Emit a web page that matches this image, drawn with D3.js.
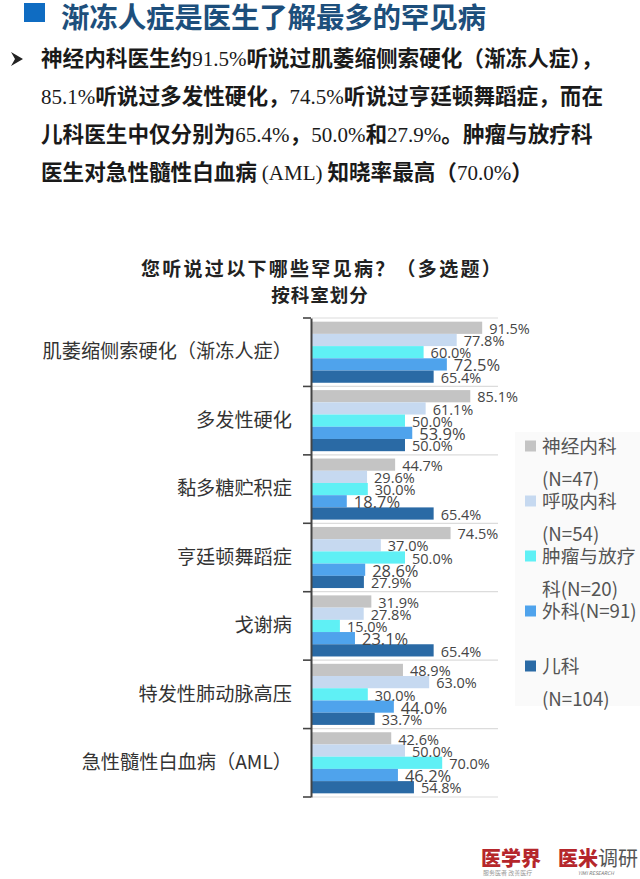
<!DOCTYPE html>
<html>
<head>
<meta charset="utf-8">
<script src="https://cdn.jsdelivr.net/npm/d3@7"></script>
<style>
html, body { margin: 0; padding: 0; background: #fff; }
svg { display: block; font-family: "Noto Sans CJK SC", sans-serif; }
</style>
</head>
<body>
<svg id="chart" width="640" height="879"></svg>
<script>
/* chart values */
var categories = ['肌萎缩侧索硬化（渐冻人症）', '多发性硬化', '黏多糖贮积症', '亨廷顿舞蹈症', '戈谢病', '特发性肺动脉高压', '急性髓性白血病（AML）'];
var seriesNames = ['神经内科', '呼吸内科', '肿瘤与放疗科', '外科', '儿科'];
var neurology = [91.5, 85.1, 44.7, 74.5, 31.9, 48.9, 42.6];
var respiratory = [77.8, 61.1, 29.6, 37.0, 27.8, 63.0, 50.0];
var oncology = [60.0, 50.0, 30.0, 50.0, 15.0, 30.0, 70.0];
var surgery = [72.5, 53.9, 18.7, 28.6, 23.1, 44.0, 46.2];
var pediatrics = [65.4, 50.0, 65.4, 27.9, 65.4, 33.7, 54.8];
var legendLines = [['神经内科', '(N=47)'], ['呼吸内科', '(N=54)'], ['肿瘤与放疗', '科(N=20)'], ['外科(N=91)', ''], ['儿科', '(N=104)']];
var headline = '渐冻人症是医生了解最多的罕见病';
var bodyLines = [
	'神经内科医生约91.5%听说过肌萎缩侧索硬化（渐冻人症），',
	'85.1%听说过多发性硬化，74.5%听说过亨廷顿舞蹈症，而在',
	'儿科医生中仅分别为65.4%，50.0%和27.9%。肿瘤与放疗科',
	'医生对急性髓性白血病 (AML) 知晓率最高（70.0%）'
];
var chartTitle = ['您听说过以下哪些罕见病？（多选题）', '按科室划分'];

var allSeries = [neurology, respiratory, oncology, surgery, pediatrics];
var colors = ['#c4c4c4', '#c6d9f0', '#5ff0f5', '#4fa3ec', '#2a6aa5'];
var labelSizes = [14.5, 14.5, 14.5, 16.5, 14.5];

var svg = d3.select('#chart');

/* header */
svg.append('rect').attr('x', 24).attr('y', 3).attr('width', 21).attr('height', 19).attr('fill', '#0f6cc2');
svg.append('text').attr('x', 61).attr('y', 28)
	.attr('font-size', 28.5).attr('font-weight', 700).attr('fill', '#1d4f7c')
	.attr('textLength', 425).text(headline);

svg.append('path').attr('d', 'M11,52 L23,59 L11,66 L15,59 Z').attr('fill', '#222');

var bodyY = d3.scaleLinear().domain([0, 3]).range([66, 180]);
bodyLines.forEach(function(line, i) {
	var t = svg.append('text').attr('x', 41).attr('y', bodyY(i)).attr('fill', '#1a1a1a');
	line.split(/([0-9.%]+|\(AML\))/).forEach(function(part) {
		if (part === '') return;
		var isLatin = /^[0-9.%(]/.test(part);
		t.append('tspan').text(part)
			.attr('font-family', isLatin ? '"Liberation Serif"' : '"Noto Sans CJK SC"')
			.attr('font-weight', isLatin ? 400 : 700)
			.attr('font-size', isLatin ? 21 : 21.6);
	});
});

chartTitle.forEach(function(line, i) {
	svg.append('text').attr('x', i == 0 ? 322 : 320).attr('y', 276 + i * 26)
		.attr('text-anchor', 'middle').attr('font-size', i == 0 ? 19 : 18.5).attr('font-weight', 700)
		.attr('letter-spacing', i == 0 ? 2.3 : 1).attr('fill', '#222').text(line);
});

/* scales */
var y0 = d3.scaleBand().domain(categories).range([318, 797]);
var y1 = d3.scaleBand().domain(d3.range(seriesNames.length)).range([0, y0.bandwidth()]).paddingOuter(0.3);
var x = d3.scaleLinear().domain([0, 100]).range([312, 498]);

/* separators and outer ticks sit on the band edges */
var edges = categories.map(function(c) { return y0(c); }).concat(y0.range()[1]);
svg.selectAll('.sep').data(edges).enter().append('line')
	.attr('x1', x(0)).attr('x2', x(100)).attr('y1', function(d) { return d; }).attr('y2', function(d) { return d; })
	.attr('stroke', '#dcdcdc').attr('stroke-width', 1.2);

/* bars */
var groups = svg.selectAll('.cat').data(categories).enter().append('g')
	.attr('transform', function(c) { return 'translate(0,' + y0(c) + ')'; });
groups.each(function(c, ci) {
	var g = d3.select(this);
	var rows = allSeries.map(function(values, si) { return { si: si, v: values[ci] }; });
	g.selectAll('rect').data(rows).enter().append('rect')
		.attr('x', x(0)).attr('y', function(d) { return y1(d.si); })
		.attr('width', function(d) { return x(d.v) - x(0); })
		.attr('height', y1.bandwidth())
		.attr('fill', function(d) { return colors[d.si]; });
});
/* labels after all bars, they overlap the next row in the reference */
groups.each(function(c, ci) {
	var g = d3.select(this);
	var rows = allSeries.map(function(values, si) { return { si: si, v: values[ci] }; });
	g.selectAll('text.val').data(rows).enter().append('text').attr('class', 'val')
		.attr('x', function(d) { return x(d.v) + 7; })
		.attr('y', function(d) { return y1(d.si) + y1.bandwidth() / 2 + 1; })
		.attr('dy', '0.36em')
		.attr('font-family', '"Open Sans", sans-serif')
		.attr('font-size', function(d) { return labelSizes[d.si]; })
		.attr('fill', '#454545')
		.text(function(d) { return d.v.toFixed(1) + '%'; });
});

/* axis */
var axis = svg.append('g').attr('transform', 'translate(311,0)')
	.call(d3.axisLeft(y0).tickSize(0).tickPadding(19));
axis.select('.domain').attr('stroke', '#444').attr('stroke-width', 2);
axis.selectAll('.tick text').attr('font-size', 19.2).attr('fill', '#333')
	.attr('font-family', '"Noto Sans CJK SC", sans-serif');
svg.selectAll('.edge').data(edges).enter().append('line')
	.attr('x1', 303).attr('x2', 311).attr('y1', function(d) { return d; }).attr('y2', function(d) { return d; })
	.attr('stroke', '#444').attr('stroke-width', 1.6);

/* legend */
svg.append('rect').attr('x', 515).attr('y', 432).attr('width', 125).attr('height', 274).attr('fill', '#fafafa');
var legendY = d3.scaleBand().domain(d3.range(legendLines.length)).range([418.5, 693.5]);
var legend = svg.selectAll('.leg').data(legendLines).enter().append('g')
	.attr('transform', function(d, i) { return 'translate(0,' + (legendY(i) + legendY.bandwidth() / 2) + ')'; });
legend.append('rect').attr('x', 525).attr('y', -5.5).attr('width', 11).attr('height', 11)
	.attr('fill', function(d, i) { return colors[i]; });
legend.append('text').attr('x', 542).attr('dy', '0.36em').attr('font-size', 18.7).attr('fill', '#555')
	.text(function(d) { return d[0]; });
legend.append('text').attr('x', 542).attr('y', 33).attr('dy', '0.36em').attr('font-size', 18.7).attr('fill', '#555')
	.text(function(d) { return d[1]; });

/* logos */
svg.append('text').attr('x', 481).attr('y', 866).attr('font-size', 20).attr('font-weight', 900).attr('fill', '#b5262b').text('医学界');
svg.append('text').attr('x', 483).attr('y', 875).attr('font-size', 6).attr('fill', '#999').text('服务医者 改善医疗');
svg.append('text').attr('x', 558).attr('y', 866).attr('font-size', 20).attr('font-weight', 900).attr('fill', '#b5262b').text('医米');
svg.append('text').attr('x', 598).attr('y', 866).attr('font-size', 20).attr('fill', '#555').text('调研');
svg.append('text').attr('x', 578).attr('y', 875).attr('font-size', 5).attr('font-style', 'italic').attr('fill', '#777').text('YIMI RESEARCH');
</script>
</body>
</html>
